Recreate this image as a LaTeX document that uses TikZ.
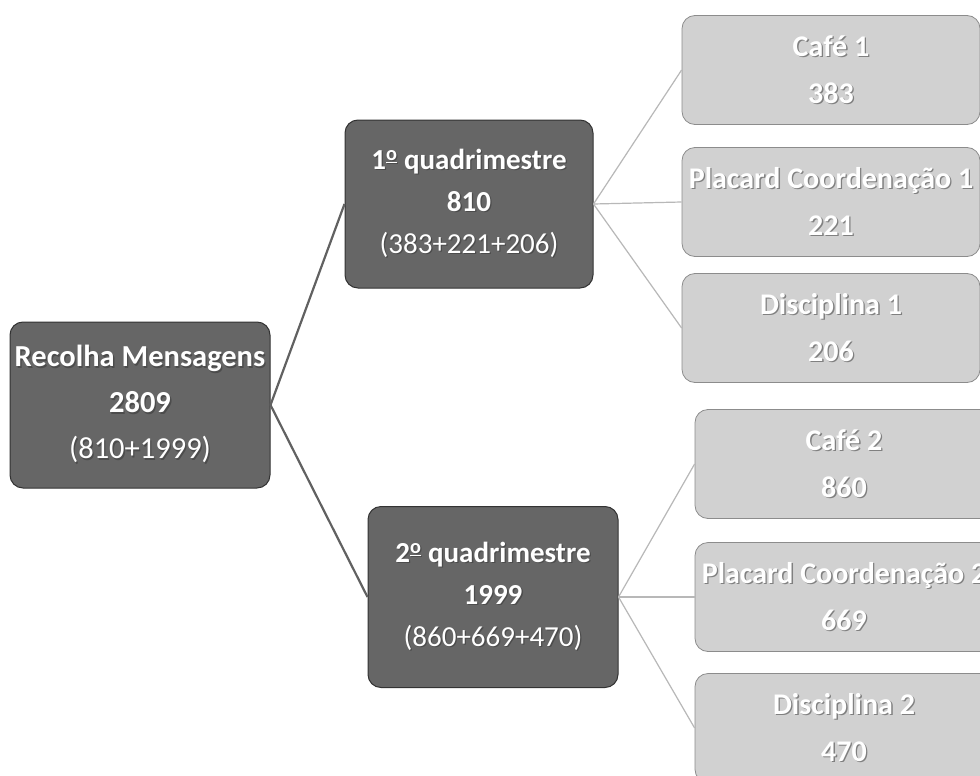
\documentclass[tikz,border=0pt]{standalone}
\usepackage{fontspec}
\setmainfont{Carlito}
% white label with a soft offset shadow behind it
\newcommand\shd[2][black!70]{\leavevmode\rlap{\kern1.3pt\raisebox{-1.3pt}{\color{#1}#2}}#2}
% ordinal indicator, underlined
\newcommand\ordo{\textsuperscript{\underline{o}}}
\begin{document}
\begin{tikzpicture}[x=1pt,y=-1pt,
  darkbox/.style={draw=black!80, line width=1pt, fill=black!60, rounded corners=13pt,
    text=white, align=center, inner sep=0pt},
  lightbox/.style={draw=black!45, line width=0.8pt, fill=black!18, rounded corners=13pt,
    text=white, align=center, inner sep=0pt, minimum width=298pt, minimum height=109pt,
    font=\fontsize{30}{47}\selectfont\bfseries},
  rootlink/.style={draw=black!62, line width=2.2pt},
  leaflink/.style={draw=black!28, line width=1.2pt}]
\clip (0,0) rectangle (980,776);
\fill[white] (0,0) rectangle (980,776);

% root and the two term boxes
\node[darkbox, minimum width=260pt, minimum height=166pt,
  font=\fontsize{30.5}{46}\selectfont] (root) at (140,405)
  {\textbf{\shd{Recolha Mensagens}}\\ \textbf{\shd{2809}}\\ \shd{(810+1999)}};
\node[darkbox, minimum width=248pt, minimum height=168pt,
  font=\fontsize{29}{42}\selectfont] (q1) at (469,204)
  {\textbf{\shd{1\ordo{} quadrimestre}}\\ \textbf{\shd{810}}\\ \shd{(383+221+206)}};
\node[darkbox, minimum width=250pt, minimum height=181pt,
  font=\fontsize{29}{42}\selectfont] (q2) at (493,597)
  {\textbf{\shd{2\ordo{} quadrimestre}}\\ \textbf{\shd{1999}}\\ \shd{(860+669+470)}};

% leaves of the first term
\node[lightbox] (a1) at (831,70)  {\shd[black!50]{Café 1}\\ \shd[black!50]{383}};
\node[lightbox] (a2) at (831,202) {\shd[black!50]{Placard Coordenação 1}\\ \shd[black!50]{221}};
\node[lightbox] (a3) at (831,328) {\shd[black!50]{Disciplina 1}\\ \shd[black!50]{206}};

% leaves of the second term
\node[lightbox] (b1) at (844,464) {\shd[black!50]{Café 2}\\ \shd[black!50]{860}};
\node[lightbox] (b2) at (844,597) {\shd[black!50]{Placard Coordenação 2}\\ \shd[black!50]{669}};
\node[lightbox] (b3) at (844,728) {\shd[black!50]{Disciplina 2}\\ \shd[black!50]{470}};

% connectors
\draw[rootlink] (root.east) -- (q1.west);
\draw[rootlink] (root.east) -- (q2.west);
\foreach \t in {a1,a2,a3} \draw[leaflink] (q1.east) -- (\t.west);
\foreach \t in {b1,b2,b3} \draw[leaflink] (q2.east) -- (\t.west);
\end{tikzpicture}
\end{document}
